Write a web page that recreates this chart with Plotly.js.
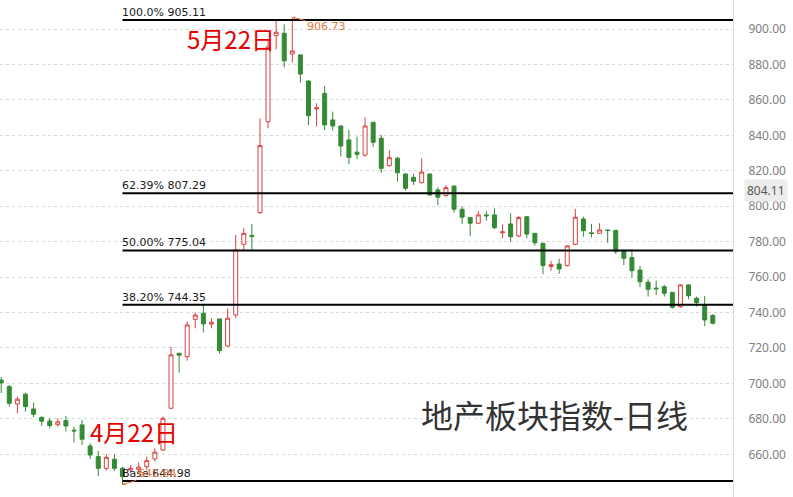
<!DOCTYPE html>
<html>
<head>
<meta charset="utf-8">
<script src="https://cdn.plot.ly/plotly-3.0.1.min.js"></script>
<style>
  html, body { margin: 0; padding: 0; background: #fff; }
  #chart { width: 793px; height: 497px; }
</style>
</head>
<body>
<div id="chart"></div>
<script>
// daily OHLC
var open  = [701.9, 698.2, 688.4, 693.9, 685.6, 680.9, 678.8, 676.7, 679.0, 673.6,
             676.6, 664.7, 658.7, 652.1, 657.2, 652.1, 651.2, 651.5, 653.0, 657.4,
             662.4, 686.0, 717.0, 715.1, 736.2, 739.6, 733.5, 736.4, 721.1, 738.6,
             778.5, 783.5, 796.4, 847.7, 896.3, 897.6, 885.9, 885.4, 870.7, 854.9,
             863.7, 848.7, 845.3, 837.4, 830.5, 828.9, 847.4, 838.4, 822.9, 827.1,
             818.2, 816.3, 813.3, 818.2, 809.2, 806.0, 811.4, 798.3, 793.6, 790.4,
             795.1, 795.1, 785.0, 790.0, 783.2, 794.1, 784.7, 779.1, 766.0, 767.4,
             766.5, 778.5, 792.8, 785.0, 784.7, 786.6, 786.4, 774.9, 771.0, 764.0,
             757.1, 753.8, 754.6, 751.4, 743.3, 755.6, 748.1, 744.3, 738.3];
var high  = [703.6, 699.1, 692.5, 694.8, 689.1, 681.2, 680.3, 680.3, 681.6, 675.6,
             679.4, 666.2, 661.9, 660.0, 660.0, 653.0, 654.0, 655.5, 658.7, 663.4,
             681.3, 720.7, 717.3, 734.9, 739.9, 744.8, 736.8, 736.6, 742.4, 783.8,
             787.6, 790.0, 849.6, 893.8, 905.0, 902.7, 906.73, 885.6, 871.0, 858.1,
             867.9, 853.4, 845.5, 843.0, 839.3, 850.2, 847.6, 840.2, 831.7, 828.0,
             818.5, 818.2, 827.1, 818.4, 810.7, 812.0, 811.5, 799.8, 793.8, 797.3,
             797.3, 798.8, 789.8, 796.0, 794.5, 794.5, 785.0, 779.4, 769.1, 770.4,
             778.0, 798.5, 794.1, 790.0, 790.4, 786.8, 786.5, 775.7, 775.7, 766.3,
             758.8, 758.0, 755.6, 751.6, 756.0, 755.8, 749.0, 749.4, 739.2];
var low   = [694.6, 686.9, 683.2, 684.1, 680.9, 676.0, 674.7, 675.6, 672.8, 666.6,
             665.3, 657.2, 647.8, 650.8, 650.6, 642.84, 649.5, 650.2, 651.2, 655.9,
             661.9, 685.5, 706.1, 712.9, 731.1, 728.7, 731.1, 717.0, 720.5, 736.8,
             775.3, 775.3, 795.6, 844.0, 888.6, 878.4, 881.2, 869.7, 845.9, 844.9,
             843.0, 842.6, 828.0, 823.8, 826.5, 828.0, 833.6, 818.9, 822.3, 813.9,
             808.8, 812.0, 812.9, 805.8, 800.7, 805.4, 796.4, 790.0, 783.2, 790.2,
             791.8, 787.0, 781.9, 780.0, 782.5, 781.9, 777.8, 761.6, 763.6, 761.8,
             766.0, 778.0, 782.8, 782.5, 784.5, 779.4, 773.1, 766.8, 759.9, 754.3,
             749.0, 749.9, 749.0, 742.2, 742.6, 747.5, 743.3, 732.4, 733.2];
var close = [700.3, 688.8, 691.1, 686.9, 682.6, 678.7, 676.2, 678.3, 676.0, 673.2,
             668.5, 659.6, 652.1, 658.3, 652.1, 647.4, 652.0, 652.8, 656.4, 661.2,
             680.3, 716.1, 715.9, 733.0, 738.6, 733.6, 734.5, 718.5, 736.8, 775.3,
             784.7, 782.9, 834.2, 889.9, 898.2, 882.1, 887.6, 874.6, 851.1, 855.5,
             845.9, 845.3, 834.0, 827.6, 829.3, 845.3, 836.1, 821.4, 827.4, 818.9,
             810.1, 814.1, 819.3, 806.4, 805.1, 810.5, 798.3, 793.8, 790.4, 795.1,
             794.6, 787.9, 785.5, 782.8, 793.6, 784.3, 779.4, 766.5, 767.0, 764.6,
             777.6, 793.8, 786.2, 784.6, 786.6, 786.3, 774.4, 770.6, 763.6, 757.4,
             753.1, 753.4, 750.9, 743.0, 755.6, 749.5, 745.6, 735.8, 734.0];

// fibonacci retracement levels
var fibPct    = ['Base', '38.20%', '50.00%', '62.39%', '100.0%'];
var fibLevels = [644.98, 744.35, 775.04, 807.29, 905.11];

var yTicks = [660, 680, 700, 720, 740, 760, 780, 800, 820, 840, 860, 880, 900];
var lastLabel = 804.11;

var idx = open.map(function(_, i) { return i; });
var lowIdx = low.indexOf(Math.min.apply(null, low));
var highIdx = high.indexOf(Math.max.apply(null, high));
var xRange = [-0.15, 90.5];

var trace1 = {
  type: 'candlestick',
  x: idx,
  open: open,
  high: high,
  low: low,
  close: close,
  whiskerwidth: 0,
  increasing: { line: { color: '#d94040', width: 1 }, fillcolor: '#ffffff' },
  decreasing: { line: { color: '#358a35', width: 1 }, fillcolor: '#358a35' },
  hoverinfo: 'none'
};

var shapes = [];
var annotations = [];
for (var i = 0; i < fibLevels.length; i++) {
  shapes.push({
    type: 'line', xref: 'x', yref: 'y',
    x0: lowIdx, x1: xRange[1], y0: fibLevels[i], y1: fibLevels[i],
    line: { color: '#000', width: 2 }
  });
  annotations.push({
    xref: 'x', yref: 'y', x: lowIdx, y: fibLevels[i],
    text: fibPct[i] + ' ' + fibLevels[i].toFixed(2),
    showarrow: false, xanchor: 'left', yanchor: 'bottom', xshift: -3, yshift: -1,
    font: { family: 'DejaVu Sans', size: 11, color: '#1a1a1a' }
  });
}

// high / low markers
annotations.push({
  xref: 'x', yref: 'y', x: highIdx, y: high[highIdx],
  text: high[highIdx].toFixed(2), showarrow: true,
  ax: 34, ay: 9, arrowhead: 2, arrowsize: 0.6, arrowwidth: 1, arrowcolor: '#e07a45',
  font: { family: 'DejaVu Sans', size: 11, color: '#e07a45' }
});
annotations.push({
  xref: 'x', yref: 'y', x: lowIdx, y: low[lowIdx],
  text: low[lowIdx].toFixed(2), showarrow: true,
  ax: 35, ay: -11, arrowhead: 2, arrowsize: 0.6, arrowwidth: 1, arrowcolor: '#e07a45',
  font: { family: 'DejaVu Sans', size: 11, color: '#e07a45' }
});

// price tag on the axis
annotations.push({
  xref: 'paper', yref: 'y', x: 1, y: lastLabel, xanchor: 'left', yanchor: 'middle',
  xshift: 11, yshift: 8,
  text: lastLabel.toFixed(2), showarrow: false, bgcolor: '#ececec', borderpad: 2,
  font: { family: 'Noto Sans', size: 12, color: '#555' }
});

// date notes and title
annotations.push({
  xref: 'paper', yref: 'paper', x: 0.315, y: 0.9225, xanchor: 'center', yanchor: 'middle',
  text: '5月22日', showarrow: false,
  font: { family: 'Noto Sans CJK SC', size: 24, color: '#e60000' }
});
annotations.push({
  xref: 'paper', yref: 'paper', x: 0.183, y: 0.132, xanchor: 'center', yanchor: 'middle',
  text: '4月22日', showarrow: false,
  font: { family: 'Noto Sans CJK SC', size: 24, color: '#e60000' }
});
annotations.push({
  xref: 'paper', yref: 'paper', x: 0.757, y: 0.167, xanchor: 'center', yanchor: 'middle',
  text: '地产板块指数-日线', showarrow: false,
  font: { family: 'Noto Sans CJK SC', size: 32, color: '#333' }
});

var layout = {
  width: 793,
  height: 497,
  margin: { l: 0, r: 60, t: 0, b: 0 },
  paper_bgcolor: '#fff',
  plot_bgcolor: '#fff',
  showlegend: false,
  xaxis: {
    range: xRange,
    visible: false,
    rangeslider: { visible: false },
    fixedrange: true
  },
  yaxis: {
    side: 'right',
    range: [635.9, 916.4],
    tickvals: yTicks,
    tickformat: '.2f',
    ticks: '',
    ticklabelstandoff: 12,
    ticklabelshift: 5.5,
    tickfont: { family: 'Noto Sans', size: 12, color: '#808080' },
    showgrid: true,
    gridcolor: '#d8d8d8',
    griddash: 'dot',
    gridwidth: 1,
    zeroline: false,
    showline: true,
    linecolor: '#dcdcdc',
    linewidth: 1,
    fixedrange: true
  },
  shapes: shapes,
  annotations: annotations
};

Plotly.newPlot('chart', [trace1], layout, { displayModeBar: false, staticPlot: true });
</script>
</body>
</html>
